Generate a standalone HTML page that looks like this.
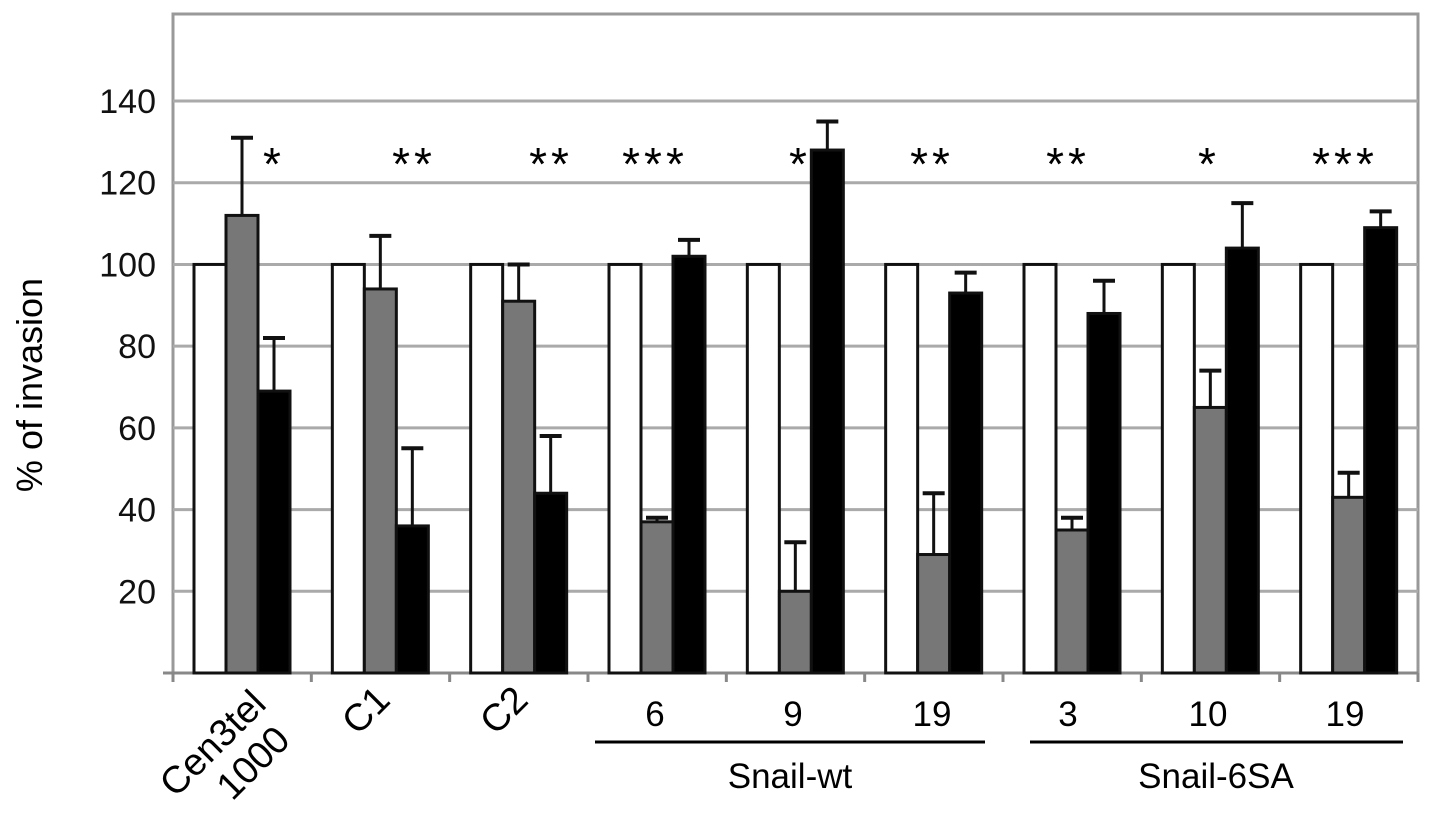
<!DOCTYPE html>
<html><head><meta charset="utf-8"><style>
body{margin:0;background:#fff}
svg{display:block;font-family:"Liberation Sans",Arial,sans-serif}
</style></head><body>
<svg id="chart" width="1441" height="831"></svg>
<script>
const categories=["Cen3tel 1000","C1","C2","6","9","19","3","10","19"];
const whiteVals=[100,100,100,100,100,100,100,100,100];
const grayVals=[112,94,91,37,20,29,35,65,43];
const grayErr=[131,107,100,38,32,44,38,74,49];
const blackVals=[69,36,44,102,128,93,88,104,109];
const blackErr=[82,55,58,106,135,98,96,115,113];
const stars=["*","**","**","***","*","**","**","*","***"];
const starX=[274,414,551,655,800,932,1068,1209,1345];
const yTicks=[20,40,60,80,100,120,140];

const NS="http://www.w3.org/2000/svg";
const svg=document.getElementById('chart');
const L=173,R=1418,T=14,B=673,ymax=161.3;
const gw=(R-L)/categories.length,bw=32,off=21;
const y=v=>B-v/ymax*(B-T);
const gx=i=>L+i*gw;
function mk(t,a,txt){const e=document.createElementNS(NS,t);for(const k in a)e.setAttribute(k,a[k]);if(txt!==undefined)e.textContent=txt;svg.appendChild(e);return e;}

let e=mk('rect',{x:L,y:T,width:R-L,height:B-T,fill:'#fff',stroke:'#999','stroke-width':3});


yTicks.forEach(t=>{
  let g=mk('line',{x1:L,x2:R,y1:y(t),y2:y(t),stroke:'#aaa','stroke-width':3});
  
  
  let tl=mk('text',{x:156,y:y(t)+12,'text-anchor':'end','font-size':34,fill:'#111'},t);
  
  
});
e=mk('line',{x1:L-10,x2:R,y1:B,y2:B,stroke:'#888','stroke-width':3});


for(let i=0;i<=categories.length;i++){
  let tk=mk('line',{x1:gx(i),x2:gx(i),y1:B,y2:B+9,stroke:'#888','stroke-width':3});
  
  
}
function bar(i,k,v,fill,name){
  const x=gx(i)+off+k*bw;
  let r=mk('rect',{x:x,y:y(v),width:bw,height:B-y(v),fill:fill,stroke:'#111','stroke-width':3});
  
  
  return x+bw/2;
}
function err(cx,v,top){
  let l=mk('line',{x1:cx,x2:cx,y1:y(v),y2:y(top),stroke:'#111','stroke-width':3});
  
  
  let c=mk('line',{x1:cx-11,x2:cx+11,y1:y(top),y2:y(top),stroke:'#111','stroke-width':4});
  
  
}
categories.forEach((c,i)=>{
  bar(i,0,whiteVals[i],'#fff','white');
  let cg=bar(i,1,grayVals[i],'#777','gray');
  let cb=bar(i,2,blackVals[i],'#000','black');
  err(cg,grayVals[i],grayErr[i]);
  err(cb,blackVals[i],blackErr[i]);
  let s=mk('text',{x:starX[i],y:180,'text-anchor':'middle','font-size':46,'letter-spacing':4,fill:'#000'},stars[i]);
  
  
});
const cx=i=>gx(i)+gw/2;
[[0,'Cen3tel',268,706],[1,'C1',392,702],[2,'C2',530,702]].forEach(([i,t,tx,ty])=>{
  let lab=mk('text',{x:tx,y:ty,'text-anchor':'end','font-size':38,transform:`rotate(-45 ${tx} ${ty})`},t);
  
  
});
let lab2=mk('text',{x:292,y:742,'text-anchor':'end','font-size':38,transform:'rotate(-45 292 742)'},'1000');


const lx=[0,0,0,655,793,932,1068,1208,1345];
for(let i=3;i<9;i++){
  let l=mk('text',{x:lx[i],y:726,'text-anchor':'middle','font-size':35},categories[i]);
  
  
}
[[595,985,790,'Snail-wt'],[1030,1403,1216,'Snail-6SA']].forEach(([a,b,m,t])=>{
  let ln=mk('line',{x1:a,x2:b,y1:742,y2:742,stroke:'#000','stroke-width':3});
  
  
  let gt=mk('text',{x:m,y:788,'text-anchor':'middle','font-size':35},t);
  
  
});
let yt=mk('text',{x:42,y:385,'text-anchor':'middle','font-size':36,transform:'rotate(-90 42 385)'},'% of invasion');


</script>
</body></html>
